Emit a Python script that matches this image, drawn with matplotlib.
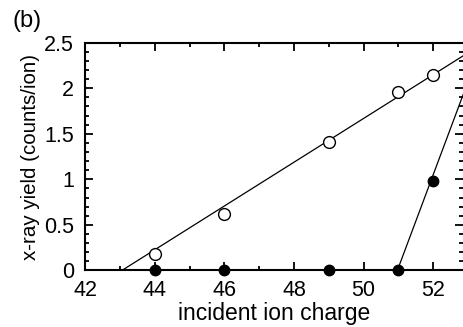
import numpy as np
import matplotlib
matplotlib.use("Agg")
import matplotlib.pyplot as plt
from matplotlib.ticker import MultipleLocator, FuncFormatter

plt.rcParams['font.family'] = ['Liberation Sans', 'DejaVu Sans']

charge = [44, 46, 49, 51, 52]
yield_open = [0.18, 0.62, 1.41, 1.96, 2.14]
yield_filled = [0.0, 0.0, 0.0, 0.0, 0.98]

# guide lines: y = slope * (x - x0)
open_x0, open_slope = 43.05, 0.240
filled_x0, filled_slope = 50.97, 1.02

xticks = [42, 44, 46, 48, 50, 52]
yticks = [0, 0.5, 1, 1.5, 2, 2.5]

fig = plt.figure(figsize=(4.63, 3.27), dpi=100)
ax = fig.add_axes([0.1842, 0.1728, 0.8168, 0.697])

xe = 54
ax.plot([open_x0, xe], [0, open_slope * (xe - open_x0)], color='black', lw=0.9, zorder=2)
ax.plot([filled_x0, xe], [0, filled_slope * (xe - filled_x0)], color='black', lw=0.9, zorder=2)

ax.plot(charge, yield_open, 'o', mfc='white', mec='black', mew=1.0, ms=8.5, zorder=3, clip_on=False)
ax.plot(charge, yield_filled, 'o', mfc='black', mec='black', ms=7.5, zorder=4, clip_on=False)

ax.set_xlim(42, 52.87)
ax.set_ylim(0, 2.5)
ax.set_xticks(xticks)
ax.set_yticks(yticks)
ax.xaxis.set_minor_locator(MultipleLocator(1))
ax.yaxis.set_minor_locator(MultipleLocator(0.1))
ax.yaxis.set_major_formatter(FuncFormatter(lambda v, p: '%g' % v))

for s in ['left', 'bottom', 'top']:
    ax.spines[s].set_linewidth(1.5)
ax.spines['right'].set_visible(False)

ax.tick_params(which='both', direction='in', top=True, right=True, width=1.3, labelsize=15.5, colors='black')
ax.tick_params(axis='x', which='both', pad=7)
ax.tick_params(axis='y', which='both', pad=8)
ax.tick_params(which='major', length=6)
ax.tick_params(which='minor', length=3)

ax.set_xlabel('incident ion charge', fontsize=16.5, labelpad=0.5)
ax.set_ylabel('x-ray yield (counts/ion)', fontsize=14.8, labelpad=3)

fig.text(12/463, 1 - 27/327, '(b)', fontsize=17)

fig.savefig('out.png', dpi=100)
